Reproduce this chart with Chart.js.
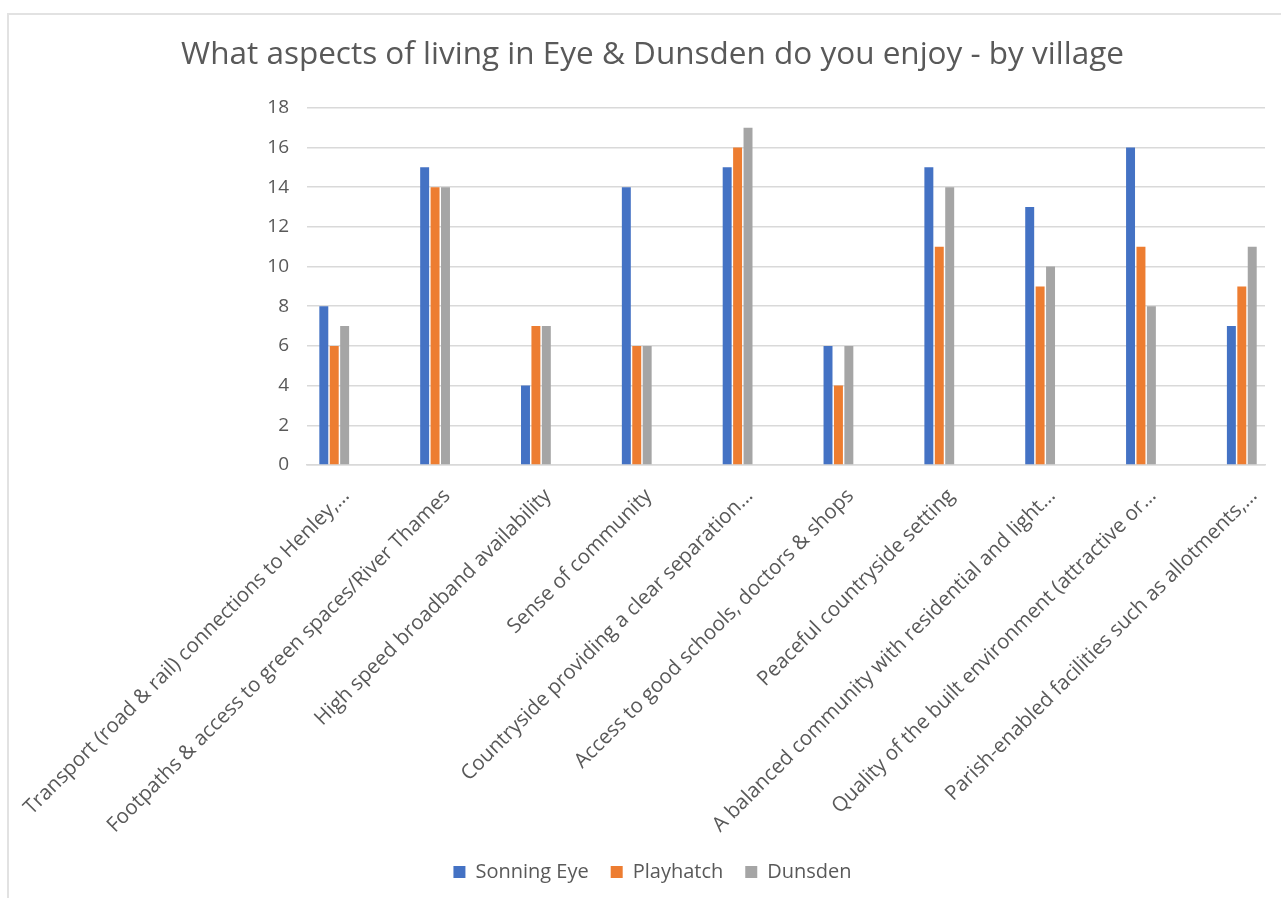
<!DOCTYPE html>
<html>
<head>
<meta charset="utf-8">
<script src="https://cdn.jsdelivr.net/npm/chart.js@4.4.1/dist/chart.umd.min.js"></script>
<style>
  html, body { margin: 0; padding: 0; background: #ffffff; overflow: hidden; }
  #wrap { position: relative; width: 1281px; height: 898px; }
  #frame { position: absolute; left: 7px; top: 13px; width: 1290px; height: 900px;
           border-left: 2px solid #e2e2e2; border-top: 2px solid #e2e2e2; box-sizing: border-box; }
  canvas { position: absolute; left: 0; top: 0; }
</style>
</head>
<body>
<div id="wrap">
  <div id="frame"></div>
  <canvas id="c" width="1281" height="898"></canvas>
</div>
<script>
const categories = [
  "Transport (road & rail) connections to Henley,\u2026",
  "Footpaths & access to green spaces/River Thames",
  "High speed broadband availability",
  "Sense of community",
  "Countryside providing a clear separation\u2026",
  "Access to good schools, doctors & shops",
  "Peaceful countryside setting",
  "A balanced community with residential and light\u2026",
  "Quality of the built environment (attractive or\u2026",
  "Parish-enabled facilities such as allotments,\u2026"
];
const seriesNames = ["Sonning Eye", "Playhatch", "Dunsden"];
const sonningEye = [8, 15, 4, 14, 15, 6, 15, 13, 16, 7];
const playhatch  = [6, 14, 7, 6, 16, 4, 11, 9, 11, 9];
const dunsden    = [7, 14, 7, 6, 17, 6, 14, 10, 8, 11];
const yTicks = [0, 2, 4, 6, 8, 10, 12, 14, 16, 18];
const titleText = "What aspects of living in Eye & Dunsden do you enjoy - by village";

const colors = ["#4472C4", "#ED7D31", "#A5A5A5"];
const txt = "#595959";
const toPoints = arr => arr.map((v, i) => ({ x: i, y: v }));

new Chart(document.getElementById('c'), {
  type: 'bar',
  data: {
    datasets: [sonningEye, playhatch, dunsden].map((arr, k) => ({
      label: seriesNames[k],
      data: toPoints(arr),
      backgroundColor: colors[k],
      categoryPercentage: 0.31,
      barPercentage: 0.86
    }))
  },
  options: {
    responsive: false,
    animation: false,
    devicePixelRatio: 1,
    layout: { padding: { left: 40, right: 16, top: 0, bottom: 6 } },
    plugins: {
      title: {
        display: true, text: titleText, color: txt,
        font: { family: "'Open Sans'", size: 31.5, weight: 'normal' },
        padding: { top: 36, bottom: 34 }
      },
      legend: {
        position: 'bottom',
        labels: {
          color: txt, boxWidth: 12, boxHeight: 12, padding: 22,
          font: { family: "'Open Sans'", size: 20 }
        }
      },
      tooltip: { enabled: false }
    },
    scales: {
      x: {
        type: 'linear',
        offset: false,
        min: -0.27, max: 9.23,
        afterBuildTicks: s => { s.ticks = categories.map((_, i) => ({ value: i })); },
        afterFit: s => { s.height = 375; s.paddingLeft = 0; s.paddingRight = 0; },
        grid: { display: false },
        border: { display: true, color: '#d9d9d9', width: 1.5 },
        ticks: {
          autoSkip: false, minRotation: 45, maxRotation: 45, labelOffset: 12, padding: 11,
          color: txt, font: { family: "'Open Sans'", size: 20.5 },
          callback: v => categories[v]
        }
      },
      y: {
        min: 0, max: 18,
        afterBuildTicks: s => { s.ticks = yTicks.map(v => ({ value: v })); },
        afterFit: s => { s.width = 267; },
        grid: { color: '#d9d9d9', lineWidth: 1.5, drawTicks: false },
        border: { display: false },
        ticks: { color: txt, padding: 18, font: { family: "'Open Sans'", size: 19 } }
      }
    }
  }
});
</script>
</body>
</html>
